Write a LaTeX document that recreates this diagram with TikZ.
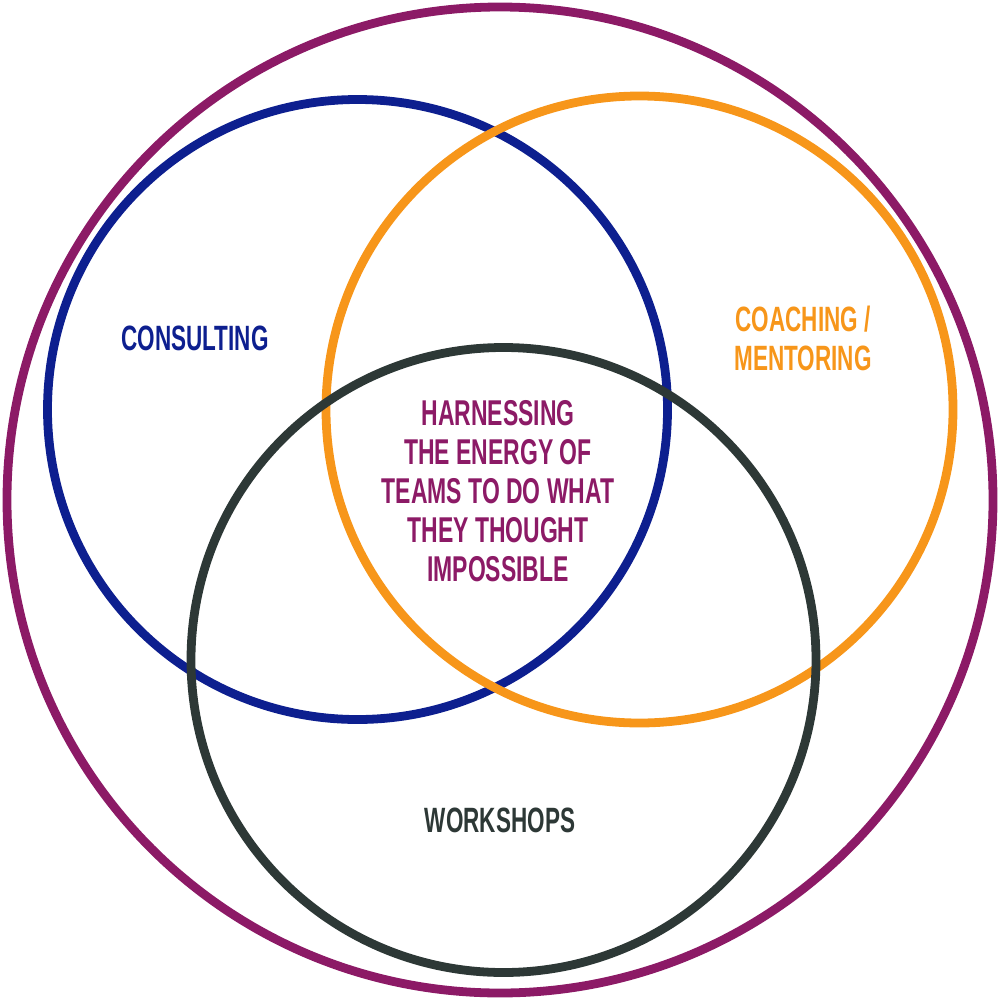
\documentclass[tikz,border=0pt]{standalone}
\usepackage{fontspec}
\setmainfont{Liberation Sans}[FakeStretch=0.64]
\definecolor{cpurple}{HTML}{8C1A66}
\definecolor{cblue}{HTML}{0D1F8F}
\definecolor{corange}{HTML}{F7961A}
\definecolor{cdark}{HTML}{2D3836}
\tikzset{
  ring/.style={line width=2.5pt},
  lbl/.style={font=\bfseries\fontsize{10pt}{11.1pt}\selectfont, align=center, inner sep=0pt},
}
\begin{document}
\begin{tikzpicture}[x=0.01cm,y=-0.01cm]
\useasboundingbox (0,0) rectangle (1000,1000);
\draw[ring,cpurple] (500,500) circle[radius=493];
\draw[ring,cblue] (357.5,409.5) circle[radius=310];
\draw[ring,corange] (639.5,409.5) circle[radius=313.5];
\draw[ring,cdark] (503.5,660) circle[radius=312.5];
\node[lbl,text=cblue] (consulting) at (195,338) {CONSULTING};
\node[lbl,text=corange] (coaching) at (803,338) {COACHING /\\MENTORING};
\node[lbl,text=cpurple,font=\bfseries\fontsize{10.2pt}{11.1pt}\selectfont] (core) at (498,491) {HARNESSING\\THE ENERGY OF\\TEAMS TO DO WHAT\\THEY THOUGHT\\IMPOSSIBLE};
\node[lbl,text=cdark] (workshops) at (500,820) {WORKSHOPS};
\end{tikzpicture}
\end{document}
